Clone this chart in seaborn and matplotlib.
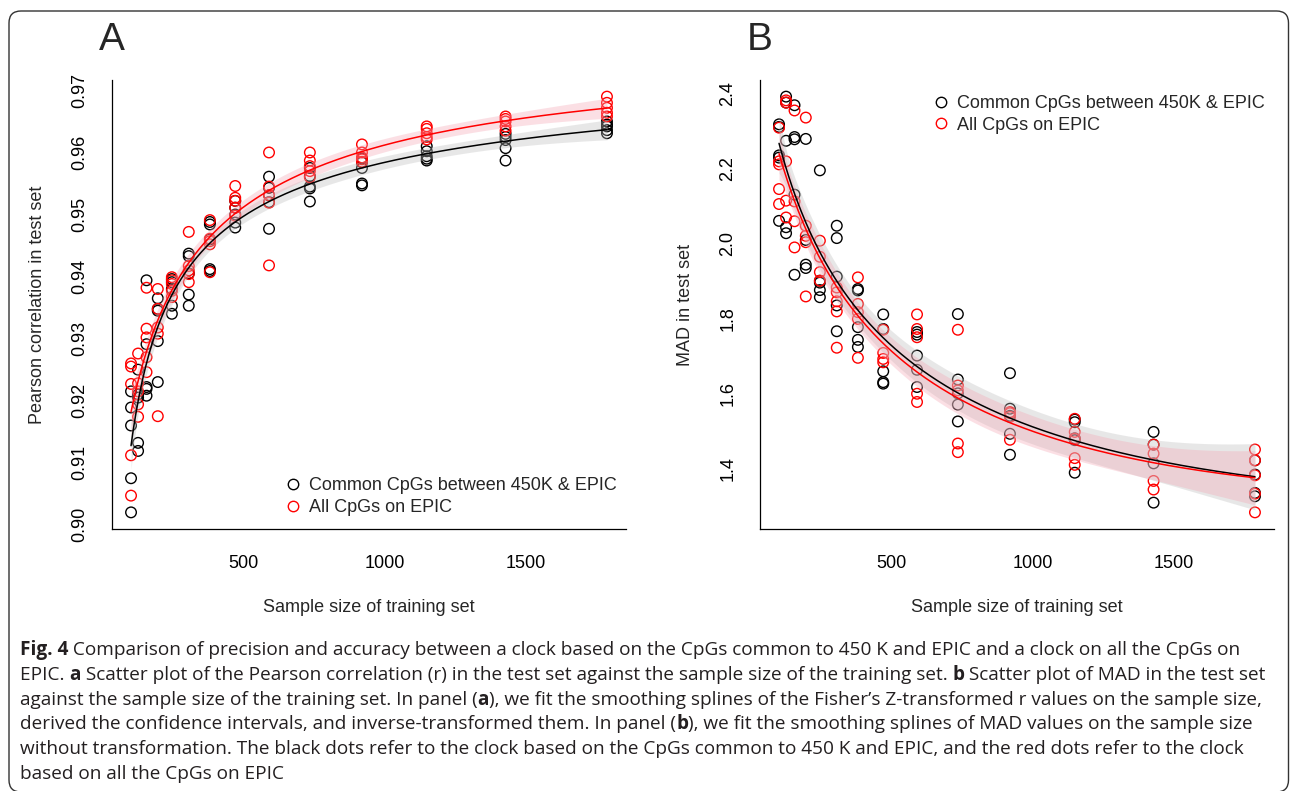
import numpy as np
import pandas as pd
import seaborn as sns
import matplotlib.pyplot as plt
from matplotlib import font_manager
from matplotlib.lines import Line2D
from matplotlib.patches import FancyBboxPatch
from matplotlib.transforms import IdentityTransform

# ===============================
# 1. Data
# ===============================
sizes = [100, 125, 155, 195, 245, 305, 380, 470, 590, 735, 920, 1150, 1430, 1790]

r_common = [
    [0.9215, 0.9189, 0.9160, 0.9075, 0.9020],
    [0.9250, 0.9210, 0.9205, 0.9132, 0.9119],
    [0.9394, 0.9291, 0.9222, 0.9219, 0.9208],
    [0.9365, 0.9348, 0.9345, 0.9296, 0.9230],
    [0.9396, 0.9391, 0.9380, 0.9353, 0.9340],
    [0.9437, 0.9433, 0.9405, 0.9371, 0.9353],
    [0.9488, 0.9484, 0.9460, 0.9412, 0.9409],
    [0.9522, 0.9511, 0.9500, 0.9487, 0.9479],
    [0.9561, 0.9543, 0.9531, 0.9520, 0.9477],
    [0.9575, 0.9562, 0.9545, 0.9542, 0.9521],
    [0.9590, 0.9584, 0.9575, 0.9550, 0.9547],
    [0.9610, 0.9602, 0.9594, 0.9590, 0.9587],
    [0.9630, 0.9625, 0.9620, 0.9607, 0.9587],
    [0.9650, 0.9645, 0.9642, 0.9636, 0.9631],
]
r_all = [
    [0.9260, 0.9255, 0.9227, 0.9112, 0.9047],
    [0.9276, 0.9228, 0.9215, 0.9194, 0.9174],
    [0.9382, 0.9316, 0.9302, 0.9270, 0.9246],
    [0.9380, 0.9348, 0.9318, 0.9308, 0.9175],
    [0.9399, 0.9394, 0.9388, 0.9377, 0.9367],
    [0.9472, 0.9417, 0.9410, 0.9404, 0.9391],
    [0.9491, 0.9461, 0.9457, 0.9452, 0.9407],
    [0.9546, 0.9527, 0.9522, 0.9511, 0.9498],
    [0.9600, 0.9545, 0.9531, 0.9519, 0.9418],
    [0.9600, 0.9587, 0.9578, 0.9570, 0.9560],
    [0.9613, 0.9600, 0.9592, 0.9589, 0.9585],
    [0.9642, 0.9638, 0.9631, 0.9625, 0.9621],
    [0.9658, 0.9654, 0.9650, 0.9642, 0.9635],
    [0.9690, 0.9680, 0.9672, 0.9664, 0.9658],
]

mad_common = [
    [2.319, 2.312, 2.236, 2.230, 2.061],
    [2.393, 2.377, 2.275, 2.044, 2.028],
    [2.370, 2.285, 2.279, 2.131, 1.917],
    [2.280, 2.010, 1.944, 1.935],
    [2.196, 1.901, 1.896, 1.876, 1.857],
    [2.048, 2.015, 1.912, 1.835, 1.766],
    [1.879, 1.875, 1.777, 1.743, 1.724],
    [1.811, 1.772, 1.659, 1.630, 1.626],
    [1.764, 1.757, 1.701, 1.663, 1.617],
    [1.812, 1.637, 1.600, 1.570, 1.525],
    [1.654, 1.559, 1.540, 1.492, 1.436],
    [1.530, 1.523, 1.480, 1.475, 1.388],
    [1.497, 1.463, 1.413, 1.308],
    [1.421, 1.383, 1.334, 1.325],
]
mad_all = [
    [2.310, 2.220, 2.212, 2.146, 2.106],
    [2.383, 2.377, 2.220, 2.115, 2.070],
    [2.356, 2.113, 2.060, 1.990],
    [2.337, 2.048, 2.021, 2.004, 1.859],
    [2.008, 1.965, 1.924, 1.901],
    [1.883, 1.870, 1.846, 1.819, 1.722],
    [1.910, 1.839, 1.817, 1.799, 1.695],
    [1.770, 1.708, 1.692, 1.683],
    [1.811, 1.772, 1.750, 1.599, 1.577],
    [1.770, 1.621, 1.608, 1.466, 1.443],
    [1.550, 1.547, 1.537, 1.476],
    [1.532, 1.497, 1.479, 1.427, 1.409],
    [1.463, 1.439, 1.366, 1.343],
    [1.450, 1.421, 1.381, 1.332, 1.282],
]

lab_common = "Common CpGs between 450K & EPIC"
lab_all = "All CpGs on EPIC"
x_ticks = [500, 1000, 1500]
r_ticks = [0.90, 0.91, 0.92, 0.93, 0.94, 0.95, 0.96, 0.97]
mad_ticks = [1.4, 1.6, 1.8, 2.0, 2.2, 2.4]

caption = [
    [("Fig. 4", "bold"), (" Comparison of precision and accuracy between a clock based on the CpGs common to 450 K and EPIC and a clock on all the CpGs on", "normal")],
    [("EPIC. ", "normal"), ("a", "bold"), (" Scatter plot of the Pearson correlation (r) in the test set against the sample size of the training set. ", "normal"), ("b", "bold"), (" Scatter plot of MAD in the test set", "normal")],
    [("against the sample size of the training set. In panel (", "normal"), ("a", "bold"), ("), we fit the smoothing splines of the Fisher\u2019s Z-transformed r values on the sample size,", "normal")],
    [("derived the confidence intervals, and inverse-transformed them. In panel (", "normal"), ("b", "bold"), ("), we fit the smoothing splines of MAD values on the sample size", "normal")],
    [("without transformation. The black dots refer to the clock based on the CpGs common to 450 K and EPIC, and the red dots refer to the clock", "normal")],
    [("based on all the CpGs on EPIC", "normal")],
]


def to_long(groups):
    xs, ys = [], []
    for s, vals in zip(sizes, groups):
        xs += [s] * len(vals)
        ys += vals
    return pd.DataFrame({"size": xs, "value": ys})


def smooth_fit(df, grid, fisher=False, deg=3):
    # polynomial in log(size) as a stand-in for the smoothing spline
    y = df["value"].to_numpy()
    if fisher:
        y = np.arctanh(y)
    X = np.vander(np.log(df["size"].to_numpy()), deg + 1)
    beta = np.linalg.lstsq(X, y, rcond=None)[0]
    resid = y - X @ beta
    s2 = resid @ resid / (len(y) - deg - 1)
    cov = s2 * np.linalg.inv(X.T @ X)
    G = np.vander(np.log(grid), deg + 1)
    fit = G @ beta
    se = np.sqrt(np.einsum("ij,jk,ik->i", G, cov, G))
    lo, hi = fit - 1.96 * se, fit + 1.96 * se
    if fisher:
        fit, lo, hi = np.tanh(fit), np.tanh(lo), np.tanh(hi)
    return fit, lo, hi


# ===============================
# 2. Figure
# ===============================
sns.set_style("white")
plt.rcParams["font.family"] = ["Liberation Sans", "DejaVu Sans"]
FS = 13

fig = plt.figure(figsize=(12.9, 7.91), dpi=100)
axA = fig.add_axes([112 / 1290, 1 - 529 / 791, 514 / 1290, 449 / 791])
axB = fig.add_axes([760 / 1290, 1 - 529 / 791, 514 / 1290, 449 / 791])

grid = np.linspace(min(sizes), max(sizes), 300)

panels = [
    (axA, r_common, r_all, True, r_ticks, "{:.2f}", "Pearson correlation in test set", "A"),
    (axB, mad_common, mad_all, False, mad_ticks, "{:.1f}", "MAD in test set", "B"),
]

for ax, g_common, g_all, fisher, yt, fmt, ylab, letter in panels:
    series = [(to_long(g_common), "black", "#bdbdbd", 0.35),
              (to_long(g_all), "red", "#f4a6b4", 0.35)]
    for df, col, band, alpha in series:
        sns.scatterplot(data=df, x="size", y="value", ax=ax, marker="o", s=58,
                        facecolors="none", edgecolors=col, linewidths=1.0,
                        legend=False, zorder=2)
    for df, col, band, alpha in series:
        fit, lo, hi = smooth_fit(df, grid, fisher=fisher)
        ax.fill_between(grid, lo, hi, color=band, alpha=alpha, lw=0, zorder=3)
    for df, col, band, alpha in series:
        fit, lo, hi = smooth_fit(df, grid, fisher=fisher)
        sns.lineplot(x=grid, y=fit, ax=ax, color=col, lw=1.1, zorder=4)

    allv = [v for grp in (g_common + g_all) for v in grp]
    span_y = max(allv) - min(allv)
    span_x = max(sizes) - min(sizes)
    ax.set_xlim(min(sizes) - 0.04 * span_x, max(sizes) + 0.04 * span_x)
    ax.set_ylim(min(allv) - 0.04 * span_y, max(allv) + 0.04 * span_y)

    ax.set_xticks(x_ticks)
    ax.set_yticks(yt)
    ax.set_yticklabels([fmt.format(t) for t in yt])
    ax.tick_params(axis="both", direction="out", length=7, width=0.9,
                   labelsize=FS, pad=12, color="black", labelcolor="black")
    ax.tick_params(axis="y", labelrotation=90, pad=10)
    for t in ax.get_yticklabels():
        t.set_va("center")
    for side in ("top", "right"):
        ax.spines[side].set_visible(False)
    for side in ("left", "bottom"):
        ax.spines[side].set_color("black")
        ax.spines[side].set_linewidth(0.9)

    ax.set_xlabel("Sample size of training set", fontsize=FS, labelpad=19)
    ax.set_ylabel(ylab, fontsize=FS)
    ax.yaxis.set_label_coords(-0.128, 0.5)

    fig.text(ax.get_position().x0, 1 - 40 / 791, letter, fontsize=28,
             ha="center", va="center")

handles = [
    Line2D([], [], ls="none", marker="o", ms=7.5, mfc="none", mec="black", mew=1.0),
    Line2D([], [], ls="none", marker="o", ms=7.5, mfc="none", mec="red", mew=1.0),
]
legend_kw = dict(frameon=False, fontsize=FS, loc="upper left", borderpad=0,
                 borderaxespad=0, handlelength=1.0, handletextpad=0.4,
                 labelspacing=0.25)
axA.legend(handles, [lab_common, lab_all], bbox_to_anchor=(0.335, 0.115), **legend_kw)
axB.legend(handles, [lab_common, lab_all], bbox_to_anchor=(0.335, 0.966), **legend_kw)

# ===============================
# 3. Caption and frame
# ===============================
renderer = fig.canvas.get_renderer()
installed = {f.name for f in font_manager.fontManager.ttflist}
cap_font = ["Liberation Sans Narrow", "DejaVu Sans"] if "Liberation Sans Narrow" in installed \
    else ["Open Sans", "DejaVu Sans"]


def line_width(segs, size):
    w = 0
    for s, wt in segs:
        t = fig.text(0, 0, s, fontsize=size, fontweight=wt, family=cap_font)
        w += t.get_window_extent(renderer).width
        t.remove()
    return w


targets = [1236, 1240, 1240]
cap_size = min(12 * tw / line_width(caption[i], 12) for i, tw in enumerate(targets))
y0 = 650
for i, segs in enumerate(caption):
    x = 20
    y = y0 + i * 24.8
    for s, wt in segs:
        t = fig.text(x / 1290, 1 - y / 791, s, fontsize=cap_size, fontweight=wt,
                     family=cap_font, va="center", ha="left", color="#231f20")
        x += t.get_window_extent(renderer).width

frame = FancyBboxPatch((9, -1), 1279.5, 781, boxstyle="round,pad=0,rounding_size=12",
                       transform=IdentityTransform(), fill=False,
                       edgecolor="#333333", lw=1.0)
fig.patches.append(frame)

fig.savefig("out.png", dpi=100)
